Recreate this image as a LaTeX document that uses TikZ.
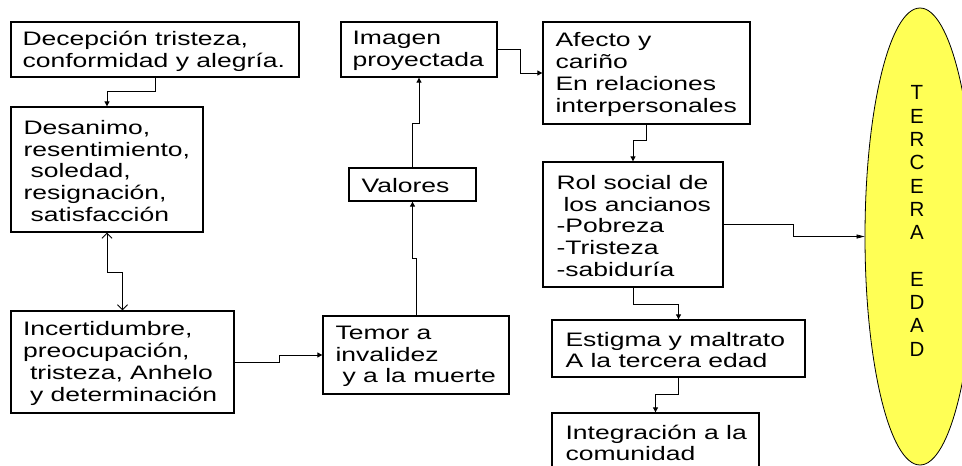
\documentclass[tikz,border=0pt]{standalone}
\usepackage{fontspec}
\setmainfont{Liberation Sans}[FakeStretch=1.36]
\newfontfamily\ellfont{Liberation Sans}
\usetikzlibrary{arrows.meta,shapes.geometric}
\definecolor{ellyellow}{RGB}{255,255,85}
\newcommand\ind{\hspace*{7pt}}
\begin{document}
\begin{tikzpicture}[x=1pt,y=-1pt,
  box/.style={draw=black, line width=1.3pt, rectangle, inner sep=0pt},
  txt/.style={anchor=west, inner sep=0pt, align=left, yshift=-1.5pt, font=\fontsize{19.5}{21.8}\selectfont},
  conn/.style={draw=black, line width=0.9pt, -{Triangle[length=5pt,width=5pt]}},
  connlong/.style={draw=black, line width=0.7pt, -{Triangle[length=8pt,width=4pt]}},
  biconn/.style={draw=black, line width=0.9pt, {Straight Barb[length=5pt,width=10pt]}-{Straight Barb[length=5pt,width=10pt]}},
]
\useasboundingbox (0,0) rectangle (962,466);
\clip (0,0) rectangle (962,466);
\fill[white] (0,0) rectangle (962,466);

% boxes
\node[box, minimum width=288pt, minimum height=55pt]  (b1)    at (155,49.5)   {};
\node[box, minimum width=192pt, minimum height=125pt] (b2)    at (107,169.5)  {};
\node[box, minimum width=223pt, minimum height=102pt] (b3)    at (122.5,362)  {};
\node[box, minimum width=186pt, minimum height=78pt]  (temor) at (416,355)    {};
\node[box, minimum width=127pt, minimum height=33pt]  (val)   at (412.5,184.5){};
\node[box, minimum width=156pt, minimum height=55pt]  (img)   at (419,49.5)   {};
\node[box, minimum width=207pt, minimum height=102pt] (afe)   at (646.5,73)   {};
\node[box, minimum width=180pt, minimum height=125pt] (rol)   at (633,224.5)  {};
\node[box, minimum width=253pt, minimum height=57pt]  (est)   at (678.5,348.5){};
\node[box, minimum width=207pt, minimum height=57pt]  (int)   at (655.5,441.5){};
\node[ellipse, draw=black, line width=0.8pt, fill=ellyellow, minimum width=110pt, minimum height=457pt, inner sep=0pt] (ell) at (920,236.5) {};

% texts
\node[txt] (t1) at ([xshift=12pt]b1.west) {Decepción tristeza,\\conformidad y alegría.};
\node[txt] (t2) at ([xshift=13pt]b2.west) {Desanimo,\\resentimiento,\\\ind soledad,\\resignación,\\\ind satisfacción};
\node[txt] (t3) at ([xshift=12.5pt]b3.west) {Incertidumbre,\\preocupación,\\\ind tristeza, Anhelo\\\ind y determinación};
\node[txt] (t4) at ([xshift=13pt]temor.west) {Temor a\\invalidez\\\ind y a la muerte};
\node[txt] (t5) at ([xshift=13pt]val.west) {Valores};
\node[txt] (t6) at ([xshift=12pt]img.west) {Imagen\\proyectada};
\node[txt] (t7) at ([xshift=13pt]afe.west) {Afecto y\\cariño\\En relaciones\\interpersonales};
\node[txt] (t8) at ([xshift=14pt]rol.west) {Rol social de\\\ind los ancianos\\-Pobreza\\-Tristeza\\-sabiduría};
\node[txt] (t9) at ([xshift=14pt]est.west) {Estigma y maltrato\\A la tercera edad};
\node[txt] (t10) at ([xshift=14pt]int.west) {Integración a la\\comunidad};
\node[inner sep=0pt, align=center, font=\ellfont\fontsize{20.5}{23.3}\selectfont] (elltxt) at (917,221)
  {T\\E\\R\\C\\E\\R\\A\\\mbox{}\\E\\D\\A\\D};

% connectors
\draw[conn] (b1.south) -- ++(0,14) -| (b2.north);
\draw[biconn] (b2.south) -- (b2.south |- 0,272) -| (b3.north);
\draw[conn] (b3.east) -- (b3.east -| 279,0) |- (temor.west);
\draw[conn] (temor.north) -- (temor.north |- 0,258) -| (val.south);
\draw[conn] (val.north) -- (val.north |- 0,123) -| (img.south);
\draw[conn] (img.east) -- (img.east -| 520,0) |- (afe.west);
\draw[conn] (afe.south) -- (afe.south |- 0,140) -| (rol.north);
\draw[conn] (rol.south) -- (rol.south |- 0,304) -| (est.north);
\draw[conn] (est.south) -- (est.south |- 0,394) -| (int.north);
\draw[connlong] (rol.east) -- (rol.east -| 793,0) |- (ell.west);
\end{tikzpicture}
\end{document}
